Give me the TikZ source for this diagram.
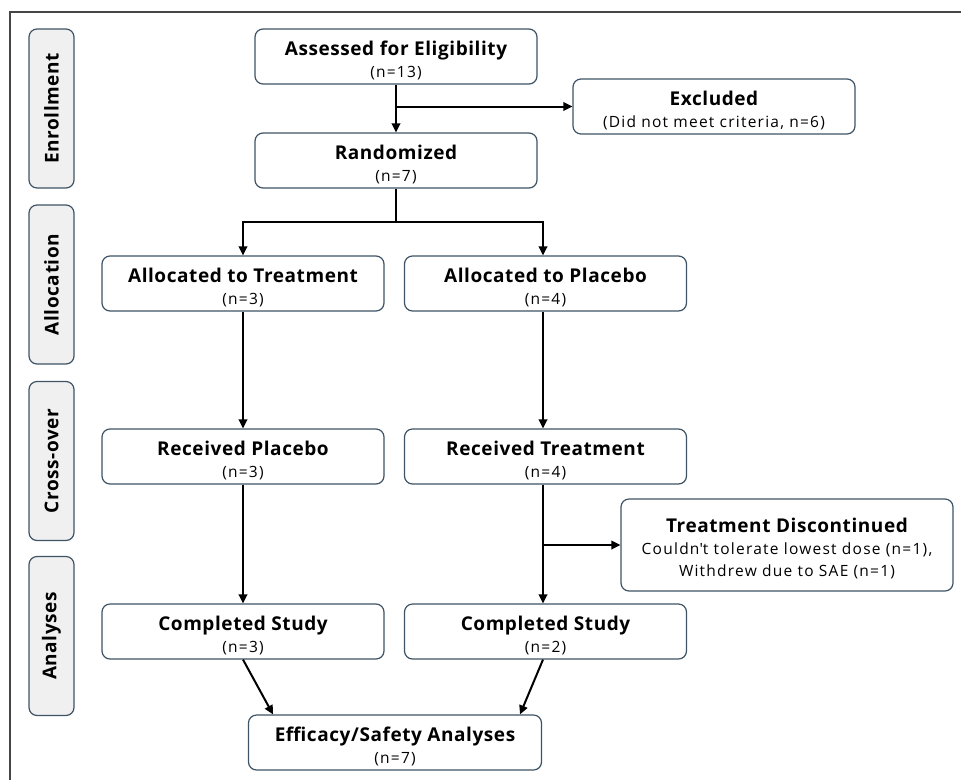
\documentclass[tikz,border=0pt]{standalone}
\usepackage{fontspec}
\setmainfont{Open Sans}[LetterSpace=8.0]
\newfontfamily\headfont{Open Sans}[LetterSpace=3.0]
\usetikzlibrary{arrows.meta}
\definecolor{boxline}{RGB}{62,84,102}
\definecolor{stagefill}{RGB}{240,240,240}
\definecolor{framegray}{RGB}{70,70,70}
\tikzstyle{flowbox} = [draw=boxline, line width=1.2pt, fill=white, rounded corners=8pt, minimum width=282pt, minimum height=55pt, align=center, inner sep=0pt, font=\fontsize{19}{22}\selectfont]
\tikzstyle{stage} = [draw=boxline, line width=1.2pt, fill=stagefill, rounded corners=8pt, minimum width=159pt, minimum height=45pt, inner sep=0pt, rotate=90, font=\fontsize{19}{20}\selectfont\headfont\bfseries]
\tikzstyle{flow} = [-{Triangle[length=9pt,width=8.5pt]}, line width=2pt]
\newcommand{\btitle}[1]{\rule{0pt}{22pt}{\headfont\bfseries #1}}
\newcommand{\bcount}[1]{{\fontsize{15.5}{22}\selectfont #1}}

\begin{document}
\begin{tikzpicture}[x=1pt,y=-1pt]
	\useasboundingbox (0,0) rectangle (961,780);
	\draw[line width=1.5pt, framegray] (961,12) -- (10,12) -- (10,780);
	% stages
	\node[stage] (enr) at (51.5,108.5) {Enrollment};
	\node[stage] (alc) at (51.5,284.5) {Allocation};
	\node[stage] (cro) at (51.5,461) {Cross-over};
	\node[stage] (ana) at (51.5,636) {Analyses};
	% boxes
	\node[flowbox] (assess) at (396,56.5) {\btitle{Assessed for Eligibility}\\ \bcount{(n=13)}};
	\node[flowbox] (excl) at (714,106.5) {\btitle{Excluded}\\ \bcount{(Did not meet criteria, n=6)}};
	\node[flowbox] (rand) at (396,160.5) {\btitle{Randomized}\\ \bcount{(n=7)}};
	\node[flowbox] (allocT) at (243,283.5) {\btitle{Allocated to Treatment}\\ \bcount{(n=3)}};
	\node[flowbox] (allocP) at (545.5,283.5) {\btitle{Allocated to Placebo}\\ \bcount{(n=4)}};
	\node[flowbox] (recP) at (243,456.5) {\btitle{Received Placebo}\\ \bcount{(n=3)}};
	\node[flowbox] (recT) at (545.5,456.5) {\btitle{Received Treatment}\\ \bcount{(n=4)}};
	\node[flowbox, minimum width=332pt, minimum height=92pt] (disc) at (787,545) {\btitle{Treatment Discontinued}\\ \bcount{Couldn\textquotesingle t tolerate lowest dose (n=1),}\\ \bcount{Withdrew due to SAE (n=1)}};
	\node[flowbox] (compL) at (243,631.5) {\btitle{Completed Study}\\ \bcount{(n=3)}};
	\node[flowbox] (compR) at (545.5,631.5) {\btitle{Completed Study}\\ \bcount{(n=2)}};
	\node[flowbox, minimum width=293pt] (eff) at (395,742.5) {\btitle{Efficacy/Safety Analyses}\\ \bcount{(n=7)}};
	\coordinate (split) at (396,222);
	% arrows
	\draw[flow] (assess.south) -- (rand.north);
	\draw[flow] (assess.south |- excl.west) -- (excl.west);
	\draw[line width=2pt] (rand.south) -- (split);
	\draw[flow] (split) -| (allocT.north);
	\draw[flow] (split) -| ([xshift=-2.5pt]allocP.north);
	\draw[flow] (allocT) -- (recP);
	\draw[flow] ([xshift=-2.5pt]allocP.south) -- ([xshift=-2.5pt]recT.north);
	\draw[flow] (recP) -- (compL);
	\draw[flow] ([xshift=-2.5pt]recT.south) -- ([xshift=-2.5pt]compR.north);
	\draw[flow] ([xshift=-2.5pt]recT.south |- disc.west) -- (disc.west);
	\draw[flow] (compL.south) -- ([xshift=-122pt]eff.north);
	\draw[flow] ([xshift=-2.5pt]compR.south) -- ([xshift=125pt]eff.north);
\end{tikzpicture}
\end{document}
